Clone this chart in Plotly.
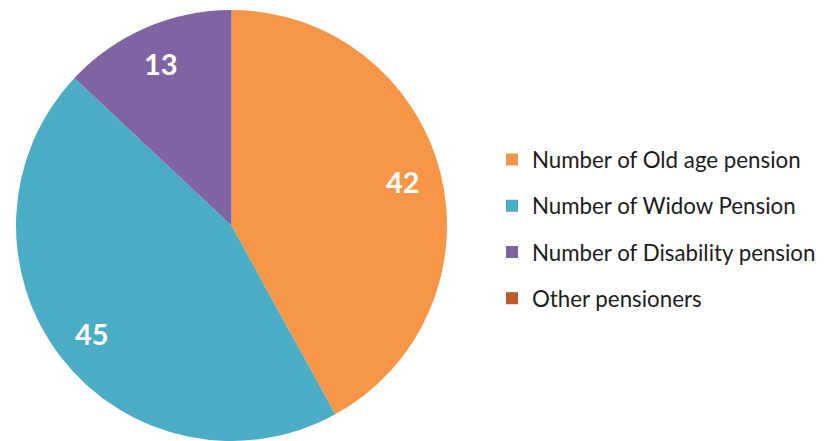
import math
import plotly.graph_objects as go

labels = ["Number of Old age pension", "Number of Widow Pension",
          "Number of Disability pension", "Other pensioners"]
values = [42, 45, 13, 0]
colors = ["#F79646", "#4BACC6", "#8064A2", "#BE5A2A"]

W, H = 825, 441
M_T, M_B = 2, 8
PIE_X0, PIE_X1 = 8, 439          # horizontal extent of pie domain (px)
plot_h = H - M_T - M_B

fig = go.Figure()

fig.add_trace(go.Pie(
    labels=labels,
    values=values,
    marker=dict(colors=colors, line=dict(width=0)),
    sort=False,
    direction="clockwise",
    rotation=0,
    textinfo="none",
    showlegend=False,
    hoverinfo="label+value",
    domain=dict(x=[PIE_X0 / W, PIE_X1 / W], y=[0, 1]),
))

# value labels placed Excel-style at ~0.82 of the radius, mid-angle of each slice
r_px = min(PIE_X1 - PIE_X0, plot_h) / 2
cx = (PIE_X0 + PIE_X1) / 2 / W
cy = 0.5
total = sum(values)
cum = 0
for v in values:
    if v > 0:
        mid = (cum + v / 2) / total * 2 * math.pi
        d = 0.82 * r_px
        fig.add_annotation(
            x=cx + math.sin(mid) * d / W,
            y=cy + math.cos(mid) * d / plot_h,
            xref="paper", yref="paper", showarrow=False,
            xanchor="center", yanchor="middle",
            text=str(v),
            font=dict(family="Lato", size=29, color="white", weight="bold"),
        )
    cum += v

# legend entries (square markers), one group each for spacing control
for i, (lab, col) in enumerate(zip(labels, colors)):
    fig.add_trace(go.Scatter(
        x=[None], y=[None], mode="markers", name=lab,
        marker=dict(symbol="square", size=13, color=col),
        legendgroup=f"g{i}", showlegend=True,
    ))

fig.update_layout(
    width=W, height=H,
    margin=dict(l=0, r=0, t=M_T, b=M_B),
    paper_bgcolor="white", plot_bgcolor="white",
    xaxis=dict(visible=False), yaxis=dict(visible=False),
    legend=dict(
        x=484 / W, y=0.492, xanchor="left", yanchor="middle",
        font=dict(family="Lato", size=22.3, color="#1c1c1c"),
        tracegroupgap=14.3, itemsizing="constant",
        bgcolor="rgba(0,0,0,0)",
    ),
)

fig.write_html("out.html")
